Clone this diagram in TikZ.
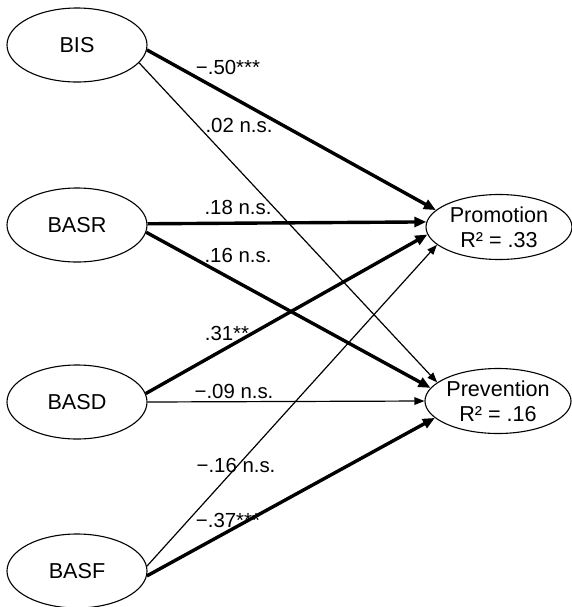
\documentclass[tikz,border=0pt]{standalone}
\usepackage{fontspec}
\setmainfont{Liberation Sans}
\usetikzlibrary{shapes.geometric,arrows.meta}
\begin{document}
\begin{tikzpicture}[x=0.5pt,y=-0.5pt,
  latent/.style={ellipse,draw,line width=0.55pt,inner sep=0pt,
    minimum width=70pt,minimum height=37pt,
    font=\fontsize{10.8}{12.5}\selectfont,align=center},
  outcome/.style={latent,minimum width=73pt,minimum height=32.5pt},
  lbl/.style={font=\fontsize{10.2}{12}\selectfont,inner sep=0pt,anchor=center},
  strongpath/.style={line width=1.7pt,-{Triangle[length=6pt,width=5pt]}},
  weakpath/.style={line width=0.6pt,-{Triangle[length=5pt,width=3.8pt]}}]
\useasboundingbox (0,0) rectangle (572,607);
\node[latent] (bis)  at (77,45)  {BIS};
\node[latent] (basr) at (77,225) {BASR};
\node[latent] (basd) at (77,402) {BASD};
\node[latent] (basf) at (77,571) {BASF};
\node[outcome] (prom) at (499,227) {Promotion\\R² = .33};
\node[outcome] (prev) at (498,401) {Prevention\\R² = .16};
% paths
\draw[strongpath] (bis.-4)   -- (prom.165);
\draw[weakpath]   (bis.-16)  -- (prev.163);
\draw[strongpath] (basr.1.6) -- (prom.176.8);
\draw[strongpath] (basr.-6)  -- (prev.169.5);
\draw[strongpath] (basd.7)   -- (prom.186);
\draw[weakpath]   (basd.0)   -- (prev.180.5);
\draw[weakpath]   (basf.4)   -- (prom.196);
\draw[strongpath] (basf.-4)  -- (prev.195);
% labels
\node[lbl] (l1) at (228,67)  {−.50***};
\node[lbl] (l2) at (239,125) {.02 n.s.};
\node[lbl] (l3) at (238,207) {.18 n.s.};
\node[lbl] (l4) at (238,255) {.16 n.s.};
\node[lbl] (l5) at (227,333) {.31**};
\node[lbl] (l6) at (234,391) {−.09 n.s.};
\node[lbl] (l7) at (236,465) {−.16 n.s.};
\node[lbl] (l8) at (228,520) {−.37***};
\end{tikzpicture}
\end{document}
